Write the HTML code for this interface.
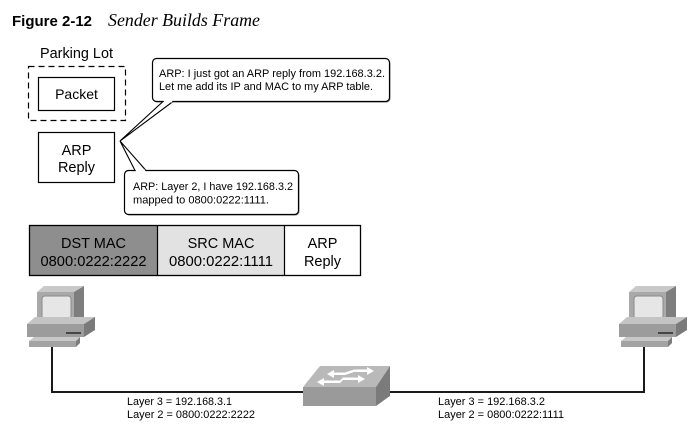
<!DOCTYPE html>
<html><head><meta charset="utf-8"><style>
html,body{margin:0;padding:0;background:#fff;}
svg{display:block;}
text{font-family:"Liberation Sans",Arial,sans-serif;fill:#000;}
</style></head><body>
<svg width="694" height="431" viewBox="0 0 694 431" xmlns="http://www.w3.org/2000/svg">
<rect width="694" height="431" fill="#fff"/>
<!-- Title -->
<text x="12" y="26" font-size="15" font-weight="bold" textLength="80" lengthAdjust="spacingAndGlyphs">Figure 2-12</text>
<text x="108" y="26" font-size="18" font-style="italic" style="font-family:'Liberation Serif','Times New Roman',serif" textLength="152" lengthAdjust="spacingAndGlyphs">Sender Builds Frame</text>

<!-- Parking lot -->
<text x="40" y="58" font-size="14.5" textLength="73" lengthAdjust="spacingAndGlyphs">Parking Lot</text>
<rect x="28.5" y="66.5" width="97" height="54" fill="none" stroke="#000" stroke-width="1.2" stroke-dasharray="6,4"/>
<rect x="38.5" y="77.5" width="76" height="33" fill="#fff" stroke="#000" stroke-width="1.2"/>
<text x="76.5" y="99" font-size="14" text-anchor="middle">Packet</text>
<rect x="38.5" y="132.5" width="76" height="50" fill="#fff" stroke="#000" stroke-width="1.2"/>
<text x="76.5" y="155" font-size="14.5" text-anchor="middle">ARP</text>
<text x="76.5" y="172" font-size="14.5" text-anchor="middle">Reply</text>

<!-- Callout 1 -->
<rect x="153.5" y="59.5" width="237" height="43" rx="4" fill="#888"/>
<rect x="152.5" y="58.5" width="237" height="43" rx="4" fill="#fff" stroke="#000" stroke-width="1.2"/>
<polygon points="163,101.5 120,141 173,101.5" fill="#fff" stroke="#000" stroke-width="1.1" stroke-linejoin="miter"/>
<line x1="163.8" y1="101.5" x2="172.2" y2="101.5" stroke="#fff" stroke-width="2"/>
<text x="159" y="77" font-size="11" textLength="226" lengthAdjust="spacingAndGlyphs">ARP: I just got an ARP reply from 192.168.3.2.</text>
<text x="159" y="90" font-size="11" textLength="214" lengthAdjust="spacingAndGlyphs">Let me add its IP and MAC to my ARP table.</text>

<!-- Callout 2 -->
<rect x="125.5" y="171.5" width="174" height="44" rx="4" fill="#888"/>
<rect x="124.5" y="170.5" width="174" height="44" rx="4" fill="#fff" stroke="#000" stroke-width="1.2"/>
<polygon points="120,141 135,170.5 146,170.5" fill="#fff" stroke="#000" stroke-width="1.1"/>
<line x1="135.8" y1="170.5" x2="145.2" y2="170.5" stroke="#fff" stroke-width="2"/>
<text x="133" y="190" font-size="11" textLength="160" lengthAdjust="spacingAndGlyphs">ARP: Layer 2, I have 192.168.3.2</text>
<text x="133" y="203.5" font-size="11" textLength="136" lengthAdjust="spacingAndGlyphs">mapped to 0800:0222:1111.</text>

<!-- Frame -->
<rect x="29.5" y="225.5" width="128" height="50" fill="#8e8e8e"/>
<rect x="157.5" y="225.5" width="127" height="50" fill="#e2e2e2"/>
<rect x="29.5" y="225.5" width="331" height="50" fill="none" stroke="#000" stroke-width="1.3"/>
<line x1="157.5" y1="225.5" x2="157.5" y2="275.5" stroke="#000" stroke-width="1.2"/>
<line x1="284.5" y1="225.5" x2="284.5" y2="275.5" stroke="#000" stroke-width="1.2"/>
<text x="93.5" y="248" font-size="14.5" text-anchor="middle">DST MAC</text>
<text x="93.5" y="266" font-size="14.5" text-anchor="middle" textLength="106" lengthAdjust="spacingAndGlyphs">0800:0222:2222</text>
<text x="221" y="248" font-size="14.5" text-anchor="middle">SRC MAC</text>
<text x="221" y="266" font-size="14.5" text-anchor="middle" textLength="104" lengthAdjust="spacingAndGlyphs">0800:0222:1111</text>
<text x="322.5" y="248" font-size="14.5" text-anchor="middle">ARP</text>
<text x="322.5" y="266" font-size="14.5" text-anchor="middle">Reply</text>

<!-- cables -->
<polyline points="52,347 52,392 304,392" fill="none" stroke="#1a1a1a" stroke-width="2"/>
<polyline points="388,392 644,392 644,347" fill="none" stroke="#1a1a1a" stroke-width="2"/>

<!-- computer -->
<defs>
<g id="pc">
  <polygon points="37,292 44,286 84,286 74,292" fill="#c9c9c9"/>
  <polygon points="74,292 84,286 84,318 74,324" fill="#7e7e7e"/>
  <rect x="37" y="292" width="37" height="32" fill="#a9a9a9"/>
  <rect x="42" y="296" width="29" height="23" rx="3" fill="#e6e6e6" stroke="#8a8a8a" stroke-width="1"/>
  <polygon points="27,324 35,317 95,317 84,324" fill="#c4c4c4"/>
  <polygon points="84,324 95,317 95,330 84,337" fill="#7a7a7a"/>
  <rect x="27" y="324" width="57" height="13" fill="#9c9c9c"/>
  <line x1="66" y1="333" x2="81" y2="333" stroke="#2a2a2a" stroke-width="1.5"/>
  <polygon points="29,341 34,337 80,337 76,341" fill="#c8c8c8"/>
  <polygon points="76,341 80,337 80,343 76,347" fill="#7c7c7c"/>
  <rect x="29" y="341" width="47" height="6" fill="#a3a3a3"/>
</g>
</defs>
<use href="#pc"/>
<use href="#pc" transform="translate(592,0)"/>

<!-- switch -->
<polygon points="303,387 320,366 390,366 376,387" fill="#b9b9b9"/>
<polygon points="376,387 390,366 390,396 376,406" fill="#7b7b7b"/>
<rect x="303" y="387" width="73" height="19" fill="#9a9a9a"/>
<g fill="#fff">
  <polygon points="327,374 334,370 334,372.5 345,372.5 345,375 334,375 334,378"/>
  <polygon points="374,371 367,367 367,369.5 354,369.5 354,372 367,372 367,375"/>
  <polygon points="317,382 324,378 324,380.5 340,380.5 340,383 324,383 324,386"/>
  <polygon points="365,379 358,375 358,377.5 343,377.5 343,380 358,380 358,383"/>
  <polygon points="345,372.5 354,369.5 354,372 345,375"/>
  <polygon points="340,380.5 343,377.5 343,380 340,383"/>
</g>

<!-- labels -->
<text x="127" y="405" font-size="11" textLength="105" lengthAdjust="spacingAndGlyphs">Layer 3 = 192.168.3.1</text>
<text x="127" y="418" font-size="11" textLength="128" lengthAdjust="spacingAndGlyphs">Layer 2 = 0800:0222:2222</text>
<text x="438" y="405" font-size="11" textLength="107" lengthAdjust="spacingAndGlyphs">Layer 3 = 192.168.3.2</text>
<text x="438" y="418" font-size="11" textLength="126" lengthAdjust="spacingAndGlyphs">Layer 2 = 0800:0222:1111</text>
</svg>
</body></html>
